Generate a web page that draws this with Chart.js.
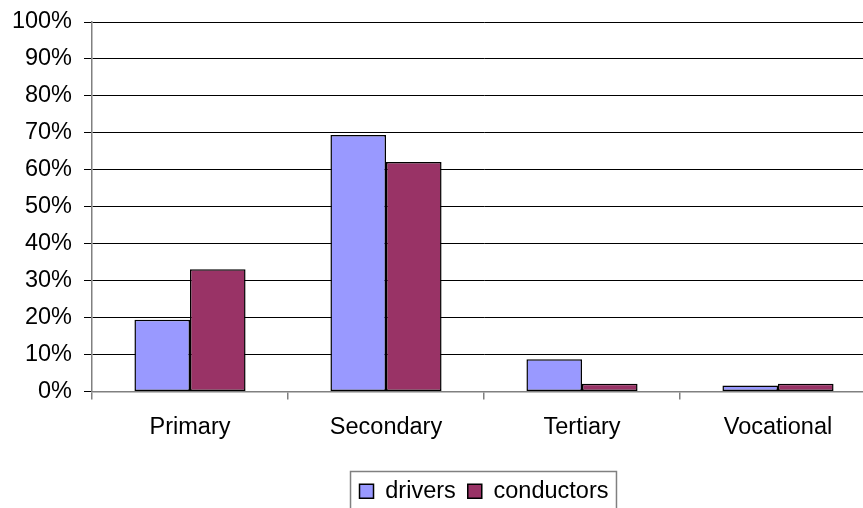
<!DOCTYPE html>
<html>
<head>
<meta charset="utf-8">
<script src="https://cdn.jsdelivr.net/npm/chart.js@4/dist/chart.umd.min.js"></script>
<style>
  html, body { margin: 0; padding: 0; background: #fff; overflow: hidden; }
  #wrap { width: 880px; height: 520px; }
</style>
</head>
<body>
<div id="wrap"><canvas id="myBarChart" width="880" height="520"></canvas></div>
<script>
// dados
const categorias = ['Primary', 'Secondary', 'Tertiary', 'Vocational'];
const drivers = [19.4, 69.4, 8.7, 1.6];
const conductors = [33.1, 62.1, 2.1, 2.1];
const yTicks = [0, 10, 20, 30, 40, 50, 60, 70, 80, 90, 100];

const fonte = 'Liberation Sans, Arial, sans-serif';

// moldura em volta da legenda
const legendFrame = {
    id: 'legendFrame',
    afterDraw(chart) {
        const boxes = chart.legend.legendHitBoxes;
        if (!boxes || !boxes.length) return;
        let left = Math.min(...boxes.map(b => b.left));
        let right = Math.max(...boxes.map(b => b.left + b.width));
        let top = Math.min(...boxes.map(b => b.top));
        const ctx = chart.ctx;
        ctx.save();
        ctx.strokeStyle = '#808080';
        ctx.lineWidth = 1.5;
        ctx.strokeRect(left - 9, top - 8, right - left + 17, 50);
        ctx.restore();
    }
};

const dadosDoGrafico = {
    labels: categorias,
    datasets: [{
        label: 'drivers',
        data: drivers,
        backgroundColor: '#9999FF',
        borderColor: '#000000',
        borderWidth: 1.5,
        borderSkipped: false
    }, {
        label: 'conductors',
        data: conductors,
        backgroundColor: '#993366',
        borderColor: '#000000',
        borderWidth: 1.5,
        borderSkipped: false
    }]
};

const config = {
    type: 'bar',
    data: dadosDoGrafico,
    plugins: [legendFrame],
    options: {
        responsive: false,
        animation: false,
        layout: { padding: { top: 22, right: 4, left: 0, bottom: 7 } },
        datasets: { bar: { categoryPercentage: 0.567, barPercentage: 1.0 } },
        plugins: {
            tooltip: { enabled: false },
            legend: {
                position: 'bottom',
                fullSize: false,
                labels: {
                    color: '#000',
                    font: { family: fonte, size: 23.5 },
                    boxWidth: 14,
                    boxHeight: 14,
                    padding: 12
                }
            }
        },
        scales: {
            x: {
                afterFit: s => { s.height = 76; },
                grid: {
                    drawOnChartArea: false,
                    drawTicks: true,
                    tickLength: 8,
                    color: '#808080',
                    lineWidth: 1.5
                },
                border: { color: '#808080', width: 1.5 },
                ticks: { color: '#000', font: { family: fonte, size: 23.5 }, padding: 14 }
            },
            y: {
                min: 0,
                max: 100,
                afterFit: s => { s.width = 92; s.paddingTop = 0; },
                afterBuildTicks: s => { s.ticks = yTicks.map(v => ({ value: v })); },
                grid: { color: '#000', lineWidth: 1, tickLength: 8 },
                border: { color: '#808080', width: 1.5 },
                ticks: {
                    color: '#000',
                    font: { family: fonte, size: 23.5 },
                    padding: 12,
                    callback: v => v + '%'
                }
            }
        }
    }
};

const ctx = document.getElementById('myBarChart').getContext('2d');
const myBarChart = new Chart(ctx, config);
</script>
</body>
</html>
